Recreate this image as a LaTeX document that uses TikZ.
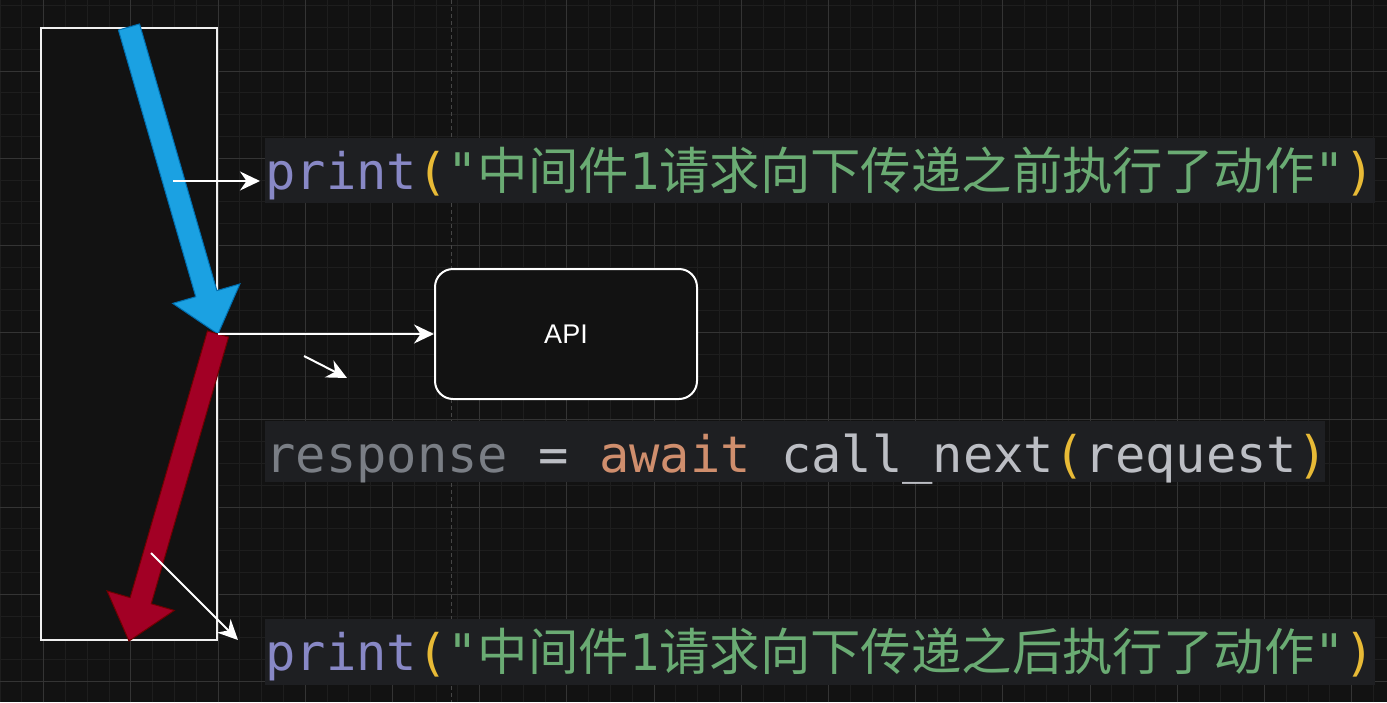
\documentclass[tikz,border=0pt]{standalone}
\usepackage{fontspec}
\setmainfont{Liberation Sans}
\setmonofont{DejaVu Sans Mono}
\newfontfamily\cjk{Noto Sans CJK SC}
\usetikzlibrary{arrows.meta,calc}

\definecolor{canvas}{HTML}{121212}
\definecolor{gridminor}{HTML}{1E1E1E}
\definecolor{gridmajor}{HTML}{343434}
\definecolor{guideline}{HTML}{464646}
\definecolor{codebg}{HTML}{1E1F22}
\definecolor{fnname}{HTML}{8888C6}
\definecolor{paren}{HTML}{E8BA36}
\definecolor{strgreen}{HTML}{6AAB73}
\definecolor{unused}{HTML}{7A7E85}
\definecolor{plain}{HTML}{BCBEC4}
\definecolor{kwawait}{HTML}{CF8E6D}
\definecolor{reqfill}{HTML}{1BA1E2}
\definecolor{reqline}{HTML}{006EAF}
\definecolor{respfill}{HTML}{A20025}
\definecolor{respline}{HTML}{6F0000}

\newcommand{\zh}[1]{{\cjk #1}}
% one monospace blank
\newcommand{\ws}{\hspace*{0.6021em}}
% thick block arrow from #1 to #2
\newcommand{\fatarrow}[3]{%
  \coordinate (fa-base) at ($(#2)!21pt!(#1)$);
  \draw[#3] ($(#1)!5.5pt!90:(#2)$) -- ($(fa-base)!5.5pt!90:(#2)$)
    -- ($(fa-base)!17.5pt!90:(#2)$) -- (#2)
    -- ($(fa-base)!17.5pt!-90:(#2)$) -- ($(fa-base)!5.5pt!-90:(#2)$)
    -- ($(#1)!5.5pt!-90:(#2)$) -- cycle;}

\tikzset{
  codebox/.style={fill=codebg, anchor=north west, inner xsep=0pt, inner ysep=0pt,
    align=left, text=plain, text height=25.5pt,
    font=\ttfamily\fontsize{25.2pt}{30pt}\selectfont},
  apibox/.style={draw=white, fill=canvas, line width=1pt, rounded corners=9pt,
    minimum width=131pt, minimum height=65pt, text=white,
    font=\fontsize{13.5pt}{16pt}\selectfont},
  frame/.style={draw=white!94!black, fill=canvas, line width=1pt, inner sep=0pt,
    minimum width=88pt, minimum height=306pt},
  wire/.style={draw=white, line width=1pt, -{Stealth[length=10pt,width=9.5pt]}},
  reqarrow/.style={fill=reqfill, draw=reqline, line width=0.5pt},
  resparrow/.style={fill=respfill, draw=respline, line width=0.5pt}
}

\begin{document}
\begin{tikzpicture}[x=0.5pt,y=-0.5pt]
  \useasboundingbox (0,0) rectangle (1387,702);
  \fill[canvas] (0,0) rectangle (1387,702);
  %
  \draw[gridminor, line width=0.5pt, step=10.9pt, shift={(43.6,71)}] (-43.6,631) grid (1343.4,-71);
  \draw[gridmajor, line width=0.5pt, step=43.6pt, shift={(43.6,71)}] (-43.6,631) grid (1343.4,-71);
  \draw[guideline, line width=0.5pt, dash pattern=on 2pt off 1.5pt] (451,0) -- (451,702);
  %
  \node[codebox, text width=555pt, text depth=7pt] (before) at (265,138)
    {\textcolor{fnname}{print}\textcolor{paren}{(}\textcolor{strgreen}{"\zh{中间件}1\zh{请求向下传递之前执行了动作}"}\textcolor{paren}{)}};
  \node[codebox, text width=530pt, text depth=5pt] (awaitline) at (265,421)
    {\textcolor{unused}{response}\ws=\ws\textcolor{kwawait}{await}\ws call\_next\textcolor{paren}{(}request\textcolor{paren}{)}};
  \node[codebox, text width=555pt, text depth=7.5pt] (after) at (265,619)
    {\textcolor{fnname}{print}\textcolor{paren}{(}\textcolor{strgreen}{"\zh{中间件}1\zh{请求向下传递之后执行了动作}"}\textcolor{paren}{)}};
  %
  \node[apibox] (api) at (566,334) {API};
  \node[frame] (mw) at (129,334) {};
  %
  \fatarrow{mw.north}{mw.east}{reqarrow}
  \fatarrow{mw.east}{mw.south}{resparrow}
  %
  \coordinate (reqin) at (173,181);
  \coordinate (stray-a) at (304,356);
  \coordinate (stray-b) at (347,378);
  \coordinate (respout) at (151,553);
  \coordinate (respin) at (238,640);
  \draw[wire, shorten >=2.5pt] (reqin) -- (reqin -| before.west);
  \draw[wire] (mw.east) -- (api.west);
  \draw[wire] (stray-a) -- (stray-b);
  \draw[wire] (respout) -- (respin);
\end{tikzpicture}
\end{document}
